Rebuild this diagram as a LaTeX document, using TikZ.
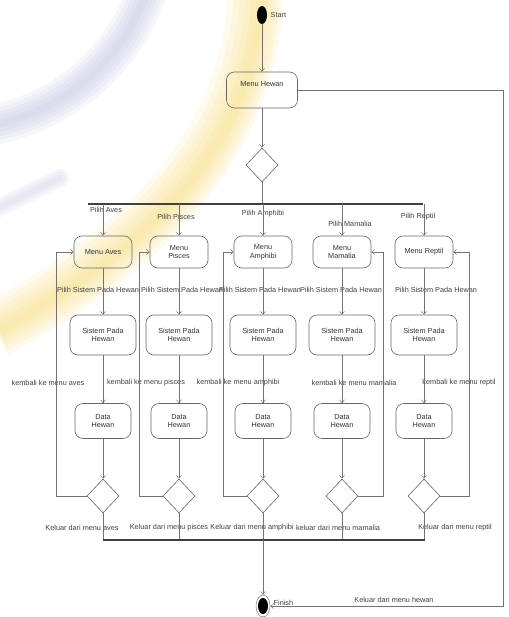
\documentclass[tikz,border=0pt]{standalone}
\usepackage{fontspec}
\setmainfont{Liberation Sans}
\usetikzlibrary{shapes.geometric,arrows.meta}
\newcommand\dfont{\fontsize{7.3}{8.6}\selectfont}
\definecolor{wmyellow}{RGB}{250,222,120}
\definecolor{wmblue}{RGB}{196,200,226}
\tikzset{
  act/.style={draw=black!60, line width=0.6pt, rounded corners=8pt, align=center,
    font=\dfont, text=black!80, inner sep=1pt},
  menubox/.style={act, minimum width=58pt, minimum height=32pt},
  sisbox/.style={act, minimum width=66pt, minimum height=40pt},
  databox/.style={act, minimum width=56pt, minimum height=35pt},
  dec/.style={diamond, draw=black!60, line width=0.6pt, minimum width=32pt,
    minimum height=34pt, inner sep=0pt},
  con/.style={draw=black!55, line width=0.5pt},
  arr/.style={con, -{Straight Barb[length=3pt,width=5pt]}},
  joinbar/.style={draw=black!75, line width=1.1pt},
  lbl/.style={font=\dfont, text=black!75, inner sep=0.5pt},
  startnode/.style={ellipse, fill=black, minimum width=10pt, minimum height=18pt, inner sep=0pt},
  endring/.style={ellipse, draw=black!60, line width=0.4pt, minimum width=14pt, minimum height=22pt, inner sep=0pt},
  wmy/.style={wmyellow, opacity=0.13},
  wmb/.style={wmblue, opacity=0.16, line cap=round},
}
\begin{document}
\begin{tikzpicture}[x=1pt,y=-1pt]
\useasboundingbox (0,0) rectangle (508,617);
\fill[white] (0,0) rectangle (508,617);
% watermark
\foreach \w in {40,32,24,16,8}{
  \draw[wmb, line width=\w pt] (148,-10) .. controls (122,60) and (68,110) .. (-10,126);
}
\foreach \w in {18,12,6}{
  \draw[wmb, line width=\w pt] (60,178) -- (-10,212);
}
\foreach \w/\o in {56/0,46/1,36/2,26/3,16/4,8/5}{
  \draw[wmy, line width=\w pt] (256+\o,-5) .. controls (248+\o,140) and (158+\o,240) .. (-5+\o,330);
}

% top part
\node[startnode] (start) at (262,15) {};
\node[lbl, anchor=west] (startlbl) at (270,15) {Start};
\node[act, minimum width=71pt, minimum height=36pt] (hewan) at (262,90) {Menu Hewan\\[3pt]~};
\node[dec] (d0) at (262,165) {};
\coordinate (b0) at (262,204);
\coordinate (barL) at (88,204);
\coordinate (barR) at (423,204);
\draw[arr] (start) -- (hewan);
\draw[arr] (hewan) -- (d0);
\draw[con] (d0) -- (b0);
\draw[joinbar] (barL) -- (barR);

% columns
\foreach \c/\x/\mtxt/\px/\py/\ptxt/\sx/\kx/\ktxt/\ex/\etxt/\lx/\side in {
  a/103/{Menu Aves}/106/210/{Pilih Aves}/98/48/{kembali ke menu aves}/82/{Keluar dari menu aves}/56/west,
  p/179/{Menu\\Pisces}/176/217/{Pilih Pisces}/182/146/{kembali ke menu pisces}/169/{Keluar dari menu pisces}/139/west,
  f/263/{Menu\\Amphibi}/263/214/{Pilih Amphibi}/260/238/{kembali ke menu amphibi}/252/{Keluar dari menu amphibi}/223/west,
  m/342/{Menu\\Mamalia}/350/224/{Pilih Mamalia}/341/354/{kembali ke menu mamalia}/338/{keluar dari menu mamalia}/383/east,
  r/424/{Menu Reptil}/418/217/{Pilih Reptil}/436/459/{kembali ke menu reptil}/455/{Keluar dari menu reptil}/469/east}
{
  \coordinate (t-\c) at (\x,204);
  \node[menubox] (m-\c) at (\x,252) {\mtxt};
  \node[lbl] (pl-\c) at (\px,\py) {\ptxt};
  \node[sisbox] (s-\c) at (\x,335) {Sistem Pada\\Hewan};
  \node[lbl] (ps-\c) at (\sx,290) {Pilih Sistem Pada Hewan};
  \node[databox] (dh-\c) at (\x,421) {Data\\Hewan};
  \node[lbl] (kb-\c) at (\kx,383) {\ktxt};
  \node[dec] (d-\c) at (\x,496) {};
  \node[lbl] (kl-\c) at (\ex,528) {\etxt};
  \coordinate (bt-\c) at (\x,540);
  \coordinate (lp-\c) at (\lx,252);
  \draw[arr] (t-\c) -- (m-\c);
  \draw[arr] (m-\c) -- (s-\c);
  \draw[arr] (s-\c) -- (dh-\c);
  \draw[arr] (dh-\c) -- (d-\c);
  \draw[con] (d-\c) -- (bt-\c);
  \draw[arr] (d-\c.\side) -| (lp-\c) -- (m-\c.\side);
}

% bottom part
\coordinate (bbL) at (103,540);
\coordinate (bbR) at (425,540);
\coordinate (bc) at (263,540);
\draw[joinbar] (bbL) -- (bbR);
\node[endring] (fin) at (263,606) {};
\fill[black] (fin.center) ellipse (5pt and 8pt);
\node[lbl, anchor=west] (finlbl) at (273,603) {Finish};
\draw[arr] (bc) -- (fin);
\coordinate (rt) at (503,90);
\coordinate (rb) at (503,606);
\draw[arr] (hewan.east) -- (rt) -- (rb) -- (fin.east);
\node[lbl] (klh) at (394,600) {Keluar dari menu hewan};
\end{tikzpicture}
\end{document}
